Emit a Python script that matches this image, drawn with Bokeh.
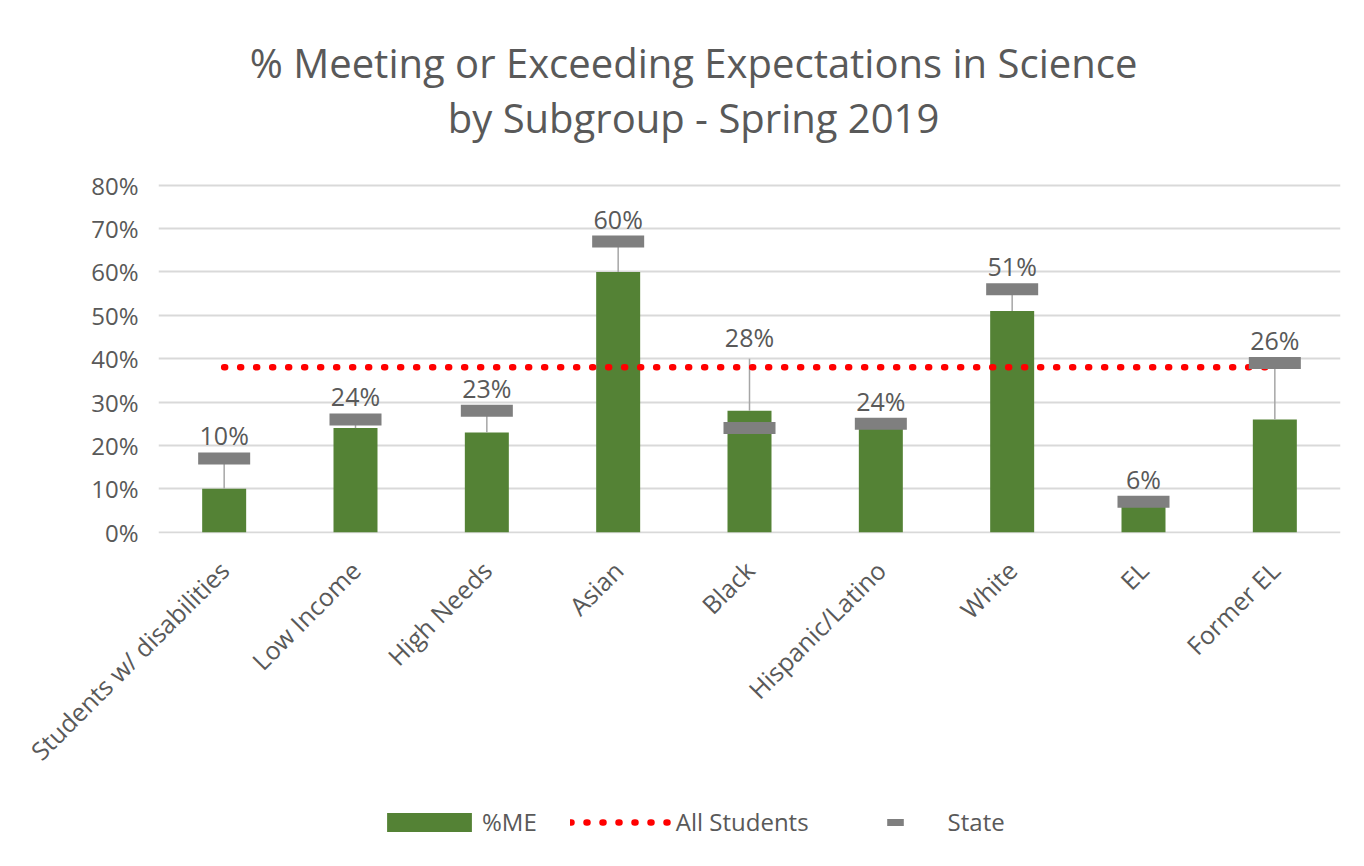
import math
from bokeh.plotting import figure
from bokeh.layouts import column
from bokeh.models import (ColumnDataSource, FixedTicker, PrintfTickFormatter,
                          Label, Legend, LegendItem)
from bokeh.core.properties import value
from bokeh.embed import file_html
from bokeh.resources import INLINE

# ---------------- data ----------------
categories = ["Students w/ disabilities", "Low Income", "High Needs", "Asian",
              "Black", "Hispanic/Latino", "White", "EL", "Former EL"]
me_pct = [10, 24, 23, 60, 28, 24, 51, 6, 26]          # %ME (bars)
state_pct = [17, 26, 28, 67, 24, 25, 56, 7, 39]       # State (gray markers)
all_students_pct = 38                                  # All Students (red dotted)
y_ticks = [0, 10, 20, 30, 40, 50, 60, 70, 80]

title_1 = "% Meeting or Exceeding Expectations in Science"
title_2 = "by Subgroup - Spring 2019"

FONT = "Open Sans"
TXT = "#595959"
GREEN = "#548235"
GRAY = "#7f7f7f"
RED = "#ff0000"

n = len(categories)
xs = list(range(n))
label_lift = 5.3
moved_labels = {"Black": 45}   # label dragged above the All Students line
label_y = [moved_labels.get(c, max(v, s) + label_lift)
           for c, v, s in zip(categories, me_pct, state_pct)]
leader_top = [max(ly - 5, v) for ly, v in zip(label_y, me_pct)]

src = ColumnDataSource(dict(
    x=xs, me=me_pct, state=state_pct, label_y=label_y, leader_top=leader_top,
    label=[f"{v}%" for v in me_pct],
))

# ---------------- main chart ----------------
# frame runs from the top of the canvas down to 0 %; the title sits inside it
p = figure(width=1364, height=790, x_range=(-0.5, n - 0.5), y_range=(-0.3, 122.58),
           output_backend="svg", toolbar_location=None, title=None,
           min_border_left=158, min_border_right=24,
           min_border_top=0, min_border_bottom=257)
p.outline_line_color = None
p.background_fill_color = "white"
p.border_fill_color = "white"

p.yaxis.ticker = FixedTicker(ticks=y_ticks)
p.yaxis.formatter = PrintfTickFormatter(format="%d%%")
p.yaxis.axis_line_color = None
p.yaxis.major_tick_line_color = None
p.yaxis.minor_tick_line_color = None
p.yaxis.major_label_standoff = 14
p.yaxis.major_label_text_font = FONT
p.yaxis.major_label_text_font_size = "24px"
p.yaxis.major_label_text_color = TXT

p.xaxis.ticker = FixedTicker(ticks=xs)
p.xaxis.major_label_overrides = {i: c for i, c in zip(xs, categories)}
p.xaxis.major_label_orientation = math.pi / 4
p.xaxis.axis_line_color = None
p.xaxis.major_tick_line_color = None
p.xaxis.minor_tick_line_color = None
p.xaxis.major_label_standoff = 26
p.xaxis.major_label_text_font = FONT
p.xaxis.major_label_text_font_size = "25px"
p.xaxis.major_label_text_color = TXT

p.xgrid.visible = False
p.ygrid.grid_line_color = "#d9d9d9"
p.ygrid.grid_line_width = 2

p.vbar(x="x", top="me", bottom=0, width=0.335, source=src,
       fill_color=GREEN, line_color=None)
p.segment(x0="x", y0="me", x1="x", y1="leader_top", source=src,
          line_color="#a6a6a6", line_width=1.5)
p.line(x=xs, y=[all_students_pct] * n, line_color=RED,
       line_width=6.5, line_dash="1 15", line_cap="round")
p.rect(x="x", y="state", width=0.396, height=12, height_units="screen",
       source=src, fill_color=GRAY, line_color=None)
p.text(x="x", y="label_y", text="label", source=src, text_align="center",
       text_baseline="middle", text_font=value(FONT), text_font_size="25px",
       text_color=TXT)

for txt, yy in [(title_1, 108.4), (title_2, 95.7)]:
    p.add_layout(Label(x=3.574, y=yy, text=txt, text_align="center",
                       text_baseline="alphabetic", text_font=FONT,
                       text_font_size="40px", text_color=TXT))

# ---------------- legend strip ----------------
lg = figure(width=1364, height=76, x_range=(0, 1), y_range=(0, 1),
            output_backend="svg", toolbar_location=None, title=None,
            x_axis_type=None, y_axis_type=None,
            min_border_left=0, min_border_right=0,
            min_border_top=0, min_border_bottom=0)
lg.outline_line_color = None
lg.xgrid.visible = False
lg.ygrid.visible = False
lg.border_fill_color = "white"

k_bar = lg.vbar(x="x", top="me", width=0.335, source=src, fill_color=GREEN,
                line_color=None, visible=False)
k_line = lg.line(x="x", y="state", source=src, line_color=RED, line_width=6.5,
                 line_dash="1 15", line_cap="round", visible=False)
k_dash = lg.scatter(x="x", y="state", marker="dash", size=10, source=src,
                    line_color=GRAY, line_width=7, line_cap="square", visible=False)

legend = Legend(items=[LegendItem(label="%ME", renderers=[k_bar]),
                       LegendItem(label="All Students", renderers=[k_line]),
                       LegendItem(label="State", renderers=[k_dash])],
                orientation="horizontal", location=(218, 28),
                glyph_width=106, glyph_height=24, label_standoff=0, spacing=33,
                padding=0, margin=0, border_line_color=None,
                background_fill_alpha=0, inactive_fill_alpha=0,
                label_text_font=FONT, label_text_font_size="24px",
                label_text_color=TXT)
lg.add_layout(legend, "center")

layout = column(p, lg, spacing=0)
open("out.html", "w").write(file_html(layout, INLINE))
